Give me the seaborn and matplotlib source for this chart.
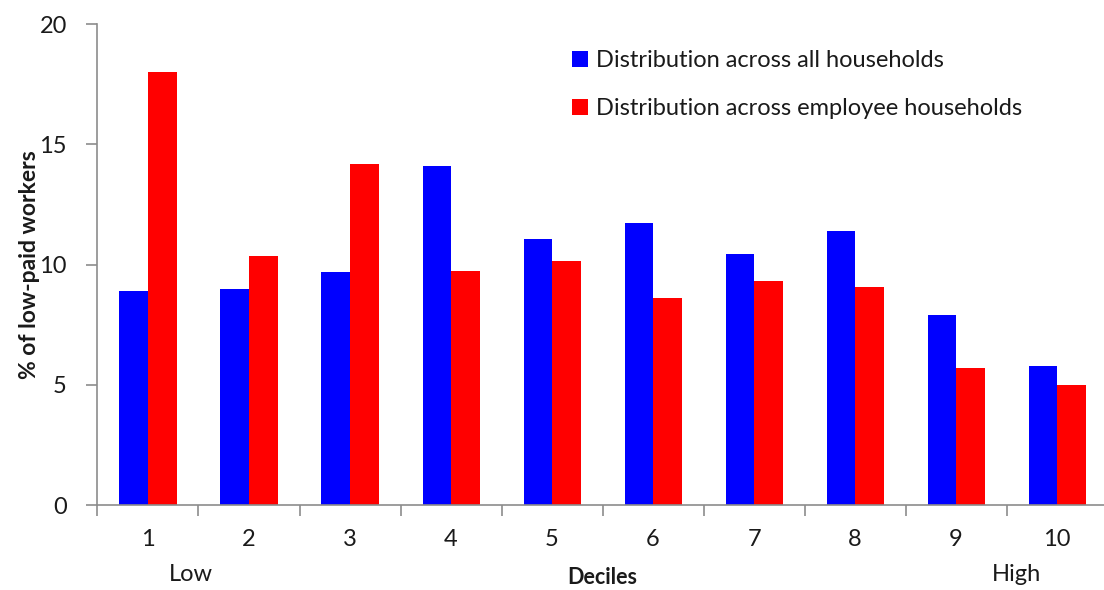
import matplotlib
matplotlib.use("Agg")
import matplotlib.pyplot as plt
from matplotlib.ticker import FixedLocator
import seaborn as sns
import pandas as pd

deciles = ["1", "2", "3", "4", "5", "6", "7", "8", "9", "10"]
all_households = [8.9, 9.0, 9.7, 14.1, 11.05, 11.75, 10.45, 11.4, 7.9, 5.8]
employee_households = [18.0, 10.35, 14.2, 9.75, 10.15, 8.6, 9.3, 9.05, 5.7, 5.0]
series_names = ["Distribution across all households",
                "Distribution across employee households"]
y_ticks = [0, 5, 10, 15, 20]

df = pd.DataFrame({
    "decile": deciles * 2,
    "value": all_households + employee_households,
    "series": [series_names[0]] * len(deciles) + [series_names[1]] * len(deciles),
})

sns.set_theme(style="white")
plt.rcParams["font.family"] = ["Lato", "DejaVu Sans"]

fig = plt.figure(figsize=(11.04, 5.90), dpi=100)
ax = fig.add_axes([0.0883, 0.144, 0.915, 0.815])

sns.barplot(data=df, x="decile", y="value", hue="series", order=deciles,
            hue_order=series_names, palette=["#0000ff", "#ff0000"],
            width=0.565, gap=0, saturation=1, edgecolor="none",
            errorbar=None, ax=ax)

ax.set_xlim(-0.5, len(deciles) - 0.5)
ax.set_ylim(0, 20)
ax.set_yticks(y_ticks)

axis_grey = "#8c8c8c"
text_col = "#1a1a1a"
for side in ("top", "right"):
    ax.spines[side].set_visible(False)
for side in ("left", "bottom"):
    ax.spines[side].set_color(axis_grey)
    ax.spines[side].set_linewidth(1.2)

# category boundaries carry the x tick marks; labels sit at the centres
ax.xaxis.set_minor_locator(FixedLocator([i - 0.5 for i in range(len(deciles) + 1)]))
ax.tick_params(axis="x", which="major", length=0, pad=17, labelsize=17, labelcolor=text_col)
ax.tick_params(axis="x", which="minor", length=8, width=1.2, color=axis_grey, direction="out", bottom=True)
ax.tick_params(axis="y", which="major", length=8, width=1.2, color=axis_grey, direction="out",
               left=True, pad=14, labelsize=17, labelcolor=text_col)

ax.set_xlabel("Deciles", fontsize=15.5, fontweight="bold", color=text_col)
ax.xaxis.set_label_coords(0.5, -0.128)
ax.set_ylabel("% of low-paid workers", fontsize=16.5, fontweight="bold", color=text_col)
ax.yaxis.set_label_coords(-0.057, 0.5)

ax.text(0.42, -0.145, "Low", transform=ax.get_xaxis_transform(), ha="center", va="center",
        fontsize=17, color=text_col)
ax.text(8.6, -0.145, "High", transform=ax.get_xaxis_transform(), ha="center", va="center",
        fontsize=17, color=text_col)

leg = ax.legend(loc="upper left", bbox_to_anchor=(0.449, 0.99), frameon=False, fontsize=17,
                handlelength=0.65, handleheight=0.65, handletextpad=0.35, labelspacing=1.15)
for t in leg.get_texts():
    t.set_color(text_col)

fig.savefig("out.png", dpi=100)
